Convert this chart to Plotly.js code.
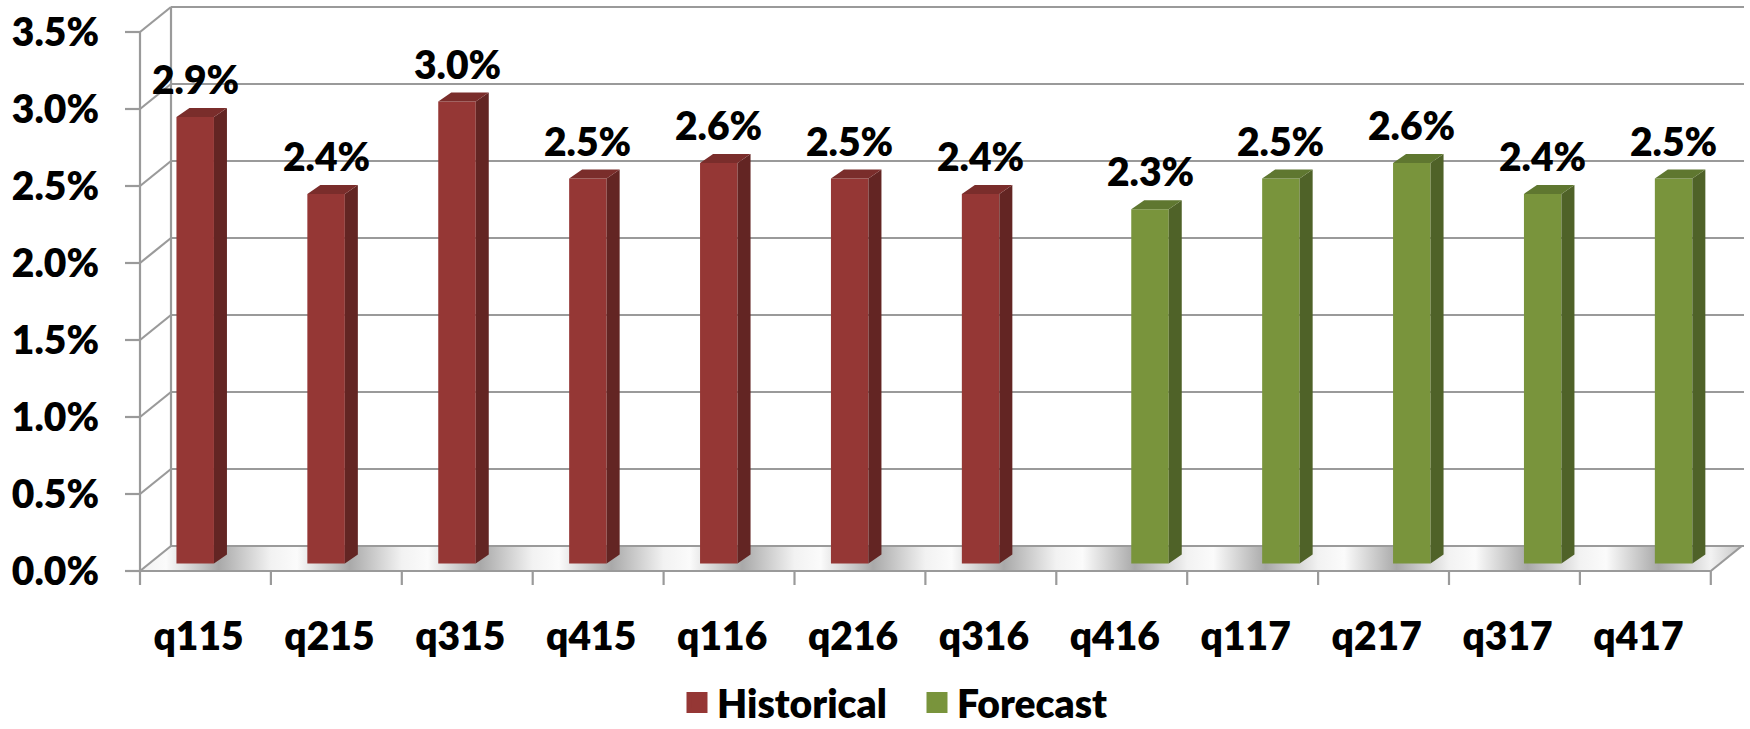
<!DOCTYPE html>
<html><head><meta charset="utf-8">
<script src="https://cdn.plot.ly/plotly-3.0.1.min.js"></script>
<style>html,body{margin:0;padding:0;background:#fff;} #chart{width:1750px;height:729px;}</style>
</head><body><div id="chart"></div>
<script>
// ---- data ----
const categories = ['q115','q215','q315','q415','q116','q216','q316','q416','q117','q217','q317','q417'];
const historical = [2.9, 2.4, 3.0, 2.5, 2.6, 2.5, 2.4, null, null, null, null, null];
const forecast   = [null, null, null, null, null, null, null, 2.3, 2.5, 2.6, 2.4, 2.5];
const yTickValues = [0, 0.5, 1, 1.5, 2, 2.5, 3, 3.5];
const yTickLabels = ['0.0%','0.5%','1.0%','1.5%','2.0%','2.5%','3.0%','3.5%'];
const seriesNames = ['Historical', 'Forecast'];

// ---- geometry / style ----
const W = 1750, H = 729;
const ML = 110, MR = 6, MT = 0, MB = 142;
const plotW = W - ML - MR, plotH = H - MT - MB;
const catPx = 130.9, valPx = 154;
const frontLeftPx = 140, frontZeroPx = 571, barZeroPx = 563.5;
const xMin = -0.5 - (frontLeftPx - ML) / catPx;
const xMax = xMin + plotW / catPx;
const yMin = (frontZeroPx - (MT + plotH)) / valPx, yMax = (frontZeroPx - MT) / valPx;
const y2Min = (barZeroPx - (MT + plotH)) / valPx, y2Max = (barZeroPx - MT) / valPx;
const depthX = 31 / catPx, depthY = 25 / valPx;
const barW = 37.5 / catPx, offHist = -29 / catPx, offFore = 9.5 / catPx;
const sideDx = 13 / catPx, sideDy = 9 / valPx;
const gridColor = '#9a9a9a';
const FONT = {family: 'Lato, "Open Sans", sans-serif', size: 39, color: '#000', weight: 800};
const colors = {
  hist: {front: '#953735', side: '#632523', top: '#7a2d2b'},
  fore: {front: '#79943c', side: '#4f6228', top: '#5f7730'}
};
const n = categories.length;
const idx = categories.map((c, i) => i);
const backLeft = -0.5 + depthX;
const frontRight = n - 0.5;

// ---- walls, floor, gridlines ----
const lx = [], ly = [];
function seg(x0, y0, x1, y1) { lx.push(x0, x1, null); ly.push(y0, y1, null); }
yTickValues.forEach(v => {
  seg(-0.5 - 15 / catPx, v, -0.5, v);
  seg(-0.5, v, backLeft, v + depthY);
  seg(backLeft, v + depthY, xMax, v + depthY);
});
const vTop = yTickValues[yTickValues.length - 1];
seg(-0.5, 0, -0.5, vTop);
seg(backLeft, depthY, backLeft, vTop + depthY);
seg(-0.5, 0, frontRight, 0);
seg(frontRight, 0, frontRight + depthX, depthY);
for (let k = 0; k <= n; k++) seg(-0.5 + k, 0, -0.5 + k, -14 / valPx);

const floorStops = [];
const span = (frontRight + depthX) - (-0.5);
for (let k = 0; k < n; k++) {
  const a = k / span, b = (k + 0.2) / span, m = (k + 0.6) / span;
  floorStops.push([a, '#f2f2f2'], [b, '#fbfbfb'], [m, '#a9a9a9']);
}
floorStops.push([n / span, '#f2f2f2'], [1, '#c4c4c4']);

const traces = [];
traces.push({
  type: 'scatter', mode: 'lines', xaxis: 'x', yaxis: 'y',
  x: [-0.5, frontRight, frontRight + depthX, backLeft, -0.5],
  y: [0, 0, depthY, depthY, 0],
  fill: 'toself', line: {width: 0},
  fillgradient: {type: 'horizontal', colorscale: floorStops, start: -0.5, stop: frontRight + depthX},
  hoverinfo: 'skip', showlegend: false
});
traces.push({
  type: 'scatter', mode: 'lines', xaxis: 'x', yaxis: 'y',
  x: lx, y: ly, line: {color: gridColor, width: 2.2},
  connectgaps: false, hoverinfo: 'skip', showlegend: false
});

// ---- bars ----
function addSeries(vals, off, col, name) {
  traces.push({
    type: 'bar', x: idx, y: vals, xaxis: 'x', yaxis: 'y2', name: name,
    width: barW, offset: off, marker: {color: col.front, line: {width: 0}},
    hoverinfo: 'x+y', showlegend: false
  });
  const sx = [], sy = [], tx = [], ty = [];
  vals.forEach((v, i) => {
    if (v == null) return;
    const xl = i + off, xr = xl + barW;
    sx.push(xr, xr + sideDx, xr + sideDx, xr, xr, null);
    sy.push(0, sideDy, v + sideDy, v, 0, null);
    tx.push(xl, xr, xr + sideDx, xl + sideDx, xl, null);
    ty.push(v, v, v + sideDy, v + sideDy, v, null);
  });
  traces.push({type: 'scatter', mode: 'lines', x: sx, y: sy, xaxis: 'x', yaxis: 'y2',
    fill: 'toself', fillcolor: col.side, line: {width: 0}, hoverinfo: 'skip', showlegend: false});
  traces.push({type: 'scatter', mode: 'lines', x: tx, y: ty, xaxis: 'x', yaxis: 'y2',
    fill: 'toself', fillcolor: col.top, line: {width: 0}, hoverinfo: 'skip', showlegend: false});
  traces.push({type: 'scatter', mode: 'markers', x: [null], y: [null], xaxis: 'x', yaxis: 'y2', name: name,
    marker: {symbol: 'square', size: 16, color: col.front, line: {color: col.front, width: 5}},
    hoverinfo: 'skip', showlegend: true});
}
addSeries(historical, offHist, colors.hist, seriesNames[0]);
addSeries(forecast, offFore, colors.fore, seriesNames[1]);

// ---- data labels ----
const annotations = [];
[[historical, offHist], [forecast, offFore]].forEach(([vals, off]) => {
  vals.forEach((v, i) => {
    if (v == null) return;
    annotations.push({x: i + off + barW / 2, y: v, xref: 'x', yref: 'y2',
      text: v.toFixed(1) + '%', showarrow: false, yanchor: 'bottom', yshift: 13, font: FONT});
  });
});

const layout = {
  width: W, height: H,
  margin: {l: ML, r: MR, t: MT, b: MB, pad: 0, autoexpand: false},
  paper_bgcolor: '#fff', plot_bgcolor: 'rgba(0,0,0,0)',
  font: FONT,
  barmode: 'overlay',
  showlegend: true,
  legend: {orientation: 'h', x: 0.347, xanchor: 'left', y: -0.197, yanchor: 'middle',
    entrywidth: 195, entrywidthmode: 'pixels',
    font: FONT, itemclick: false, itemdoubleclick: false, bgcolor: 'rgba(0,0,0,0)'},
  xaxis: {range: [xMin, xMax], tickmode: 'array', tickvals: idx.map(i => i - 0.053), ticktext: categories,
    showgrid: false, zeroline: false, showline: false, ticks: '', ticklabelstandoff: 23,
    tickfont: FONT, fixedrange: true, automargin: false},
  yaxis: {range: [yMin, yMax], tickmode: 'array', tickvals: yTickValues, ticktext: yTickLabels,
    showgrid: false, zeroline: false, showline: false, ticks: '', ticklabelstandoff: 10,
    tickfont: FONT, fixedrange: true, automargin: false},
  yaxis2: {overlaying: 'y', range: [y2Min, y2Max], showgrid: false, zeroline: false,
    showticklabels: false, ticks: '', showline: false, fixedrange: true},
  annotations: annotations
};
Plotly.newPlot('chart', traces, layout, {displayModeBar: false, staticPlot: true});
</script></body></html>
